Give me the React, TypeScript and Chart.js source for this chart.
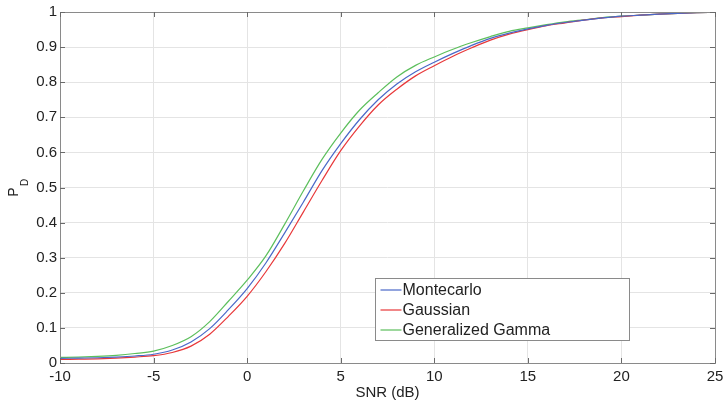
import React, { useEffect, useRef } from "react";
import { Chart, registerables } from "chart.js";

Chart.register(...registerables);

const snrDb = [-10, -9, -8, -7, -6, -5, -4, -3, -2, -1, 0, 1, 2, 3, 4, 5, 6, 7, 8, 9, 10, 11, 12, 13, 14, 15, 16, 17, 18, 19, 20, 21, 22, 23, 24, 25];

const montecarlo = [0.013, 0.014, 0.015, 0.017, 0.020, 0.025, 0.037, 0.060, 0.098, 0.152, 0.212, 0.285, 0.37, 0.458, 0.548, 0.625, 0.693, 0.75, 0.795, 0.83, 0.857, 0.882, 0.905, 0.925, 0.94, 0.952, 0.962, 0.970, 0.977, 0.983, 0.988, 0.991, 0.994, 0.996, 0.998, 0.999];

const gaussian = [0.010, 0.011, 0.012, 0.014, 0.017, 0.021, 0.030, 0.048, 0.082, 0.133, 0.19, 0.26, 0.34, 0.43, 0.52, 0.605, 0.675, 0.735, 0.78, 0.818, 0.847, 0.874, 0.898, 0.92, 0.937, 0.95, 0.961, 0.969, 0.977, 0.983, 0.987, 0.991, 0.994, 0.996, 0.998, 0.999];

const generalizedGamma = [0.016, 0.017, 0.019, 0.022, 0.027, 0.034, 0.050, 0.075, 0.118, 0.176, 0.236, 0.305, 0.395, 0.49, 0.58, 0.655, 0.72, 0.77, 0.815, 0.848, 0.872, 0.894, 0.913, 0.93, 0.945, 0.955, 0.964, 0.972, 0.978, 0.984, 0.988, 0.991, 0.994, 0.996, 0.998, 0.999];

const seriesNames = ["Montecarlo", "Gaussian", "Generalized Gamma"];
const seriesColors = ["#4a68c8", "#e8383a", "#5cbf5c"];

const xTitle = "SNR (dB)";
const yTitleMain = "P";
const yTitleSub = "D";

const FONT = "'Liberation Sans', Arial, Helvetica, sans-serif";

const framePlugin = {
  id: "matlabFrame",
  afterDraw(chart: any) {
    const { ctx, chartArea } = chart;
    const { left, right, top, bottom } = chartArea;
    const xs = chart.scales.x;
    const ys = chart.scales.y;
    ctx.save();
    // box
    ctx.strokeStyle = "#8a8a8a";
    ctx.lineWidth = 1;
    ctx.strokeRect(Math.round(left) + 0.5, Math.round(top) + 0.5, Math.round(right - left), Math.round(bottom - top));
    // inward ticks
    ctx.strokeStyle = "#6a6a6a";
    const tl = 5;
    ctx.beginPath();
    xs.ticks.forEach((t: any) => {
      const px = Math.round(xs.getPixelForValue(t.value)) + 0.5;
      ctx.moveTo(px, bottom);
      ctx.lineTo(px, bottom - tl);
      ctx.moveTo(px, top);
      ctx.lineTo(px, top + tl);
    });
    ys.ticks.forEach((t: any) => {
      const py = Math.round(ys.getPixelForValue(t.value)) + 0.5;
      ctx.moveTo(left, py);
      ctx.lineTo(left + tl, py);
      ctx.moveTo(right, py);
      ctx.lineTo(right - tl, py);
    });
    ctx.stroke();

    // y title P_D rotated
    const cy = (top + bottom) / 2;
    ctx.rotate(-Math.PI / 2);
    ctx.fillStyle = "#222";
    ctx.textBaseline = "alphabetic";
    ctx.textAlign = "center";
    ctx.font = `14px ${FONT}`;
    ctx.fillText(yTitleMain, -(cy + 4.5), 18);
    ctx.font = `10px ${FONT}`;
    ctx.fillText(yTitleSub, -(cy - 5), 28);
    ctx.restore();

    // legend
    ctx.save();
    const bx = Math.round(left + 315) + 0.5;
    const by = Math.round(top + 266) + 0.5;
    const bw = 254;
    const bh = 62;
    ctx.fillStyle = "#ffffff";
    ctx.fillRect(bx, by, bw, bh);
    ctx.strokeStyle = "#8a8a8a";
    ctx.lineWidth = 1;
    ctx.strokeRect(bx, by, bw, bh);
    ctx.font = `16px ${FONT}`;
    ctx.textBaseline = "middle";
    ctx.textAlign = "left";
    const rows = [11.5, 31.5, 51.5];
    chart.data.datasets.forEach((ds: any, i: number) => {
      const ry = by + rows[i];
      ctx.strokeStyle = ds.borderColor;
      ctx.lineWidth = 1.2;
      ctx.beginPath();
      ctx.moveTo(bx + 5, ry);
      ctx.lineTo(bx + 26, ry);
      ctx.stroke();
      ctx.fillStyle = "#222";
      ctx.fillText(ds.label, bx + 27, ry + 1);
    });
    ctx.restore();
  },
};

export default function App() {
  const ref = useRef<HTMLCanvasElement | null>(null);

  useEffect(() => {
    if (!ref.current) return;
    const series = [montecarlo, gaussian, generalizedGamma];
    const chart = new Chart(ref.current, {
      type: "line",
      data: {
        datasets: series.map((vals, i) => ({
          label: seriesNames[i],
          data: snrDb.map((x, j) => ({ x, y: vals[j] })),
          borderColor: seriesColors[i],
          backgroundColor: seriesColors[i],
          borderWidth: 1.2,
          pointRadius: 0,
          cubicInterpolationMode: "monotone" as const,
          fill: false,
        })),
      },
      options: {
        responsive: false,
        animation: false,
        devicePixelRatio: 1,
        layout: { padding: { top: 12, right: 8, left: 0, bottom: 0 } },
        plugins: {
          legend: { display: false },
          tooltip: { enabled: false },
        },
        scales: {
          x: {
            type: "linear",
            min: -10,
            max: 25,
            ticks: {
              stepSize: 5,
              color: "#222",
              font: { family: FONT, size: 15 },
              padding: 5,
              maxRotation: 0,
            },
            grid: { color: "#e4e4e4", drawTicks: false, lineWidth: 1 },
            border: { display: false },
            title: {
              display: true,
              text: xTitle,
              color: "#222",
              font: { family: FONT, size: 15 },
              padding: { top: 0, bottom: 3 },
            },
            afterFit(scale: any) {
              scale.height = 42;
              scale.paddingRight = 0;
              scale.paddingLeft = 0;
            },
          },
          y: {
            min: 0,
            max: 1,
            ticks: {
              stepSize: 0.1,
              color: "#222",
              font: { family: FONT, size: 15 },
              padding: 3,
              callback: (v: any) => String(Number(Number(v).toFixed(1))),
            },
            grid: { color: "#e4e4e4", drawTicks: false, lineWidth: 1 },
            border: { display: false },
            afterFit(scale: any) {
              scale.width = 60;
            },
          },
        },
      },
      plugins: [framePlugin],
    });
    return () => chart.destroy();
  }, []);

  return (
    <div style={{ position: "fixed", left: 0, top: 0, width: 723, height: 405, background: "#fff" }}>
      <canvas ref={ref} width={723} height={405} style={{ display: "block" }} />
    </div>
  );
}
